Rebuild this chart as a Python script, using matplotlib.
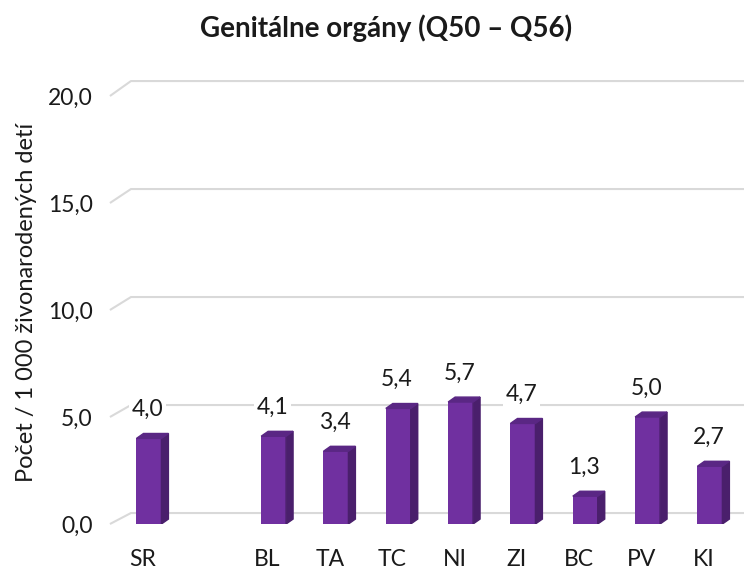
import matplotlib.pyplot as plt
import matplotlib.transforms as mtransforms
from matplotlib.patches import Polygon
import numpy as np

plt.rcParams['font.family'] = ['Lato', 'DejaVu Sans']

categories = ['SR', '', 'BL', 'TA', 'TC', 'NI', 'ZI', 'BC', 'PV', 'KI']
values = [4.0, None, 4.1, 3.4, 5.4, 5.7, 4.7, 1.3, 5.0, 2.7]
labels = ['4,0', '', '4,1', '3,4', '5,4', '5,7', '4,7', '1,3', '5,0', '2,7']
yticks = [0, 5, 10, 15, 20]
ytick_labels = ['0,0', '5,0', '10,0', '15,0', '20,0']

front = '#7030a0'
side = '#4a1f6c'
top = '#5a2784'
grid = '#d9d9d9'
txt = '#1a1a1a'

fig = plt.figure(figsize=(7.44, 5.69), dpi=100)
ax = fig.add_axes([117.8 / 744, (569 - 524) / 569, 623.3 / 744, 428 / 569])
ax.set_xlim(-0.5, 9.5)
ax.set_ylim(0, 20)
for s in ax.spines.values():
    s.set_visible(False)

# back wall gridlines with a little diagonal at the left
x0 = -0.626
ddx = 0.337
for v in yticks:
    vb = 0.513 + 1.0093 * v
    ax.plot([x0, x0 + ddx, 9.6], [v, vb, vb], color=grid, lw=1.5,
            clip_on=False, zorder=1, solid_capstyle='butt')

w = 0.40
dx, dy = 0.112, 0.23
x = np.arange(len(categories))
for i, v in enumerate(values):
    if v is None:
        continue
    l, r = i - w / 2, i + w / 2
    ax.bar(i, v, width=w, color=front, zorder=3)
    ax.add_patch(Polygon([(r, 0), (r + dx, dy), (r + dx, v + dy), (r, v)],
                         closed=True, color=side, zorder=3))
    ax.add_patch(Polygon([(l, v), (r, v), (r + dx, v + dy), (l + dx, v + dy)],
                         closed=True, color=top, zorder=3))
    ax.text(i - 0.02, v + 1.35, labels[i], ha='center', va='center',
            fontsize=16.5, color=txt, zorder=4,
            bbox=dict(facecolor='white', edgecolor='none', pad=2))

ax.set_xticks(x)
ax.set_xticklabels(categories, fontsize=16.5, color=txt)
ax.tick_params(axis='x', length=0, pad=18)
offset = mtransforms.ScaledTranslation(-6 / 100, 0, fig.dpi_scale_trans)
for t in ax.get_xticklabels():
    t.set_transform(t.get_transform() + offset)

ax.set_yticks(yticks)
ax.set_yticklabels(ytick_labels, fontsize=16.5, color=txt)
ax.tick_params(axis='y', length=0, pad=18)

fig.text(27 / 744, 1 - 302 / 569, 'Počet / 1 000 živonarodených detí',
         rotation=90, ha='center', va='center', fontsize=17, color=txt)
fig.text(386 / 744, 1 - 28 / 569, 'Genitálne orgány (Q50 – Q56)',
         ha='center', va='center', fontsize=20, fontweight='bold', color=txt)

fig.savefig('out.png', dpi=100)
